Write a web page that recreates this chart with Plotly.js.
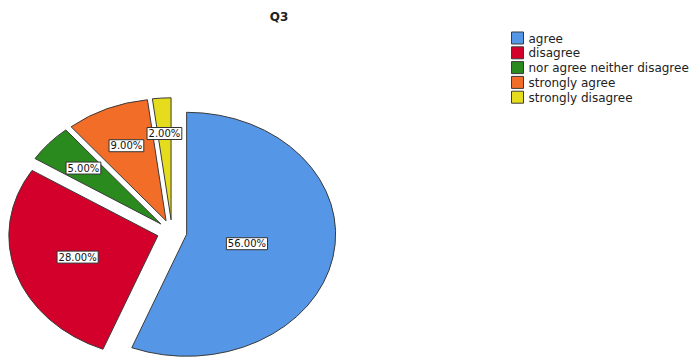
<!DOCTYPE html>
<html><head><meta charset="utf-8">
<script src="https://cdn.plot.ly/plotly-3.0.1.min.js"></script>
<style>html,body{margin:0;padding:0;background:#fff}#chart{width:689px;height:362px}</style>
</head><body><div id="chart"></div>
<script>
const categories = ['agree', 'disagree', 'nor agree neither disagree', 'strongly agree', 'strongly disagree'];
const percents = [56, 28, 5, 9, 2];
const colors = ['#5596E6', '#D2002A', '#2A8A1E', '#F26E28', '#E6DC1E'];
const chartTitle = 'Q3';

const FONT = 'DejaVu Sans, Verdana, sans-serif';
const gd = document.getElementById('chart');
const PULL = 0.1;

const trace = {
  type: 'pie', labels: categories, values: percents,
  sort: false, direction: 'clockwise', rotation: 0,
  marker: {colors: colors, line: {color: '#3a3a3a', width: 1}},
  pull: PULL,
  texttemplate: '%{percent:.2%}', textposition: 'inside', insidetextorientation: 'horizontal',
  textfont: {family: FONT, size: 10, color: '#111'},
  domain: {x: [0.05, 0.45], y: [0.1, 0.9]},
  hoverinfo: 'none'
};

const layout = {
  width: 689, height: 362,
  margin: {l: 0, r: 0, t: 0, b: 0},
  paper_bgcolor: '#fff',
  font: {family: FONT, color: '#222'},
  title: {text: '<b>' + chartTitle + '</b>', x: 279 / 689, xanchor: 'center', y: 1 - 17 / 362, yanchor: 'middle',
          font: {family: FONT, size: 12, color: '#222'}},
  uniformtext: {mode: 'show', minsize: 10},
  showlegend: true,
  legend: {x: 0.733, y: 1 - 27 / 362, xanchor: 'left', yanchor: 'top', font: {family: FONT, size: 12, color: '#222'},
           bgcolor: 'rgba(0,0,0,0)', traceorder: 'normal'}
};

Plotly.newPlot(gd, [trace], layout, {staticPlot: true}).then(function () {
  const cd = gd.calcdata[0];
  const cd0 = cd[0];
  const cx = cd0.cx, cy = cd0.cy, r = cd0.r;
  const tx = 172, ty = 232, rx = 149, ry = 122;
  const sx = rx / r, sy = ry / r;
  const total = percents.reduce(function (a, b) { return a + b; }, 0);
  const M = 'translate(' + tx + ',' + ty + ') scale(' + sx + ',' + sy + ') translate(' + (-cx) + ',' + (-cy) + ')';
  const svg = gd.querySelector('.main-svg');
  const sr = svg.getBoundingClientRect();
  gd.querySelectorAll('.pielayer g.slice').forEach(function (g) {
    const pt = g.__data__;
    const p = g.querySelector('path.surface');
    if (p) { p.setAttribute('transform', M); p.style.vectorEffect = 'non-scaling-stroke'; }
    const t = g.querySelector('text.slicetext');
    if (!t || !pt) return;
    const br = t.getBoundingClientRect();
    const ox = br.left + br.width / 2 - sr.left, oy = br.top + br.height / 2 - sr.top;
    const share = pt.v / total;
    const f = PULL + 0.72 - 0.55 * share;
    const nx = tx + sx * f * pt.pxmid[0], ny = ty + sy * f * pt.pxmid[1];
    const old = t.getAttribute('transform') || '';
    const tr = 'translate(' + (nx - ox) + ',' + (ny - oy) + ') ' + old;
    const bb = t.getBBox();
    const rect = document.createElementNS('http://www.w3.org/2000/svg', 'rect');
    rect.setAttribute('x', bb.x - 1.5);
    rect.setAttribute('y', bb.y - 0.5);
    rect.setAttribute('width', bb.width + 3);
    rect.setAttribute('height', bb.height + 1);
    rect.setAttribute('fill', '#fff');
    rect.setAttribute('stroke', '#333');
    rect.setAttribute('stroke-width', '1');
    rect.setAttribute('transform', tr);
    t.parentNode.insertBefore(rect, t);
    t.setAttribute('transform', tr);
  });

  // compact legend like the reference
  const items = Array.from(gd.querySelectorAll('.legend .traces'));
  if (items.length) {
    const parse = function (s) {
      const m = /translate\(\s*([-\d.e]+)[ ,]\s*([-\d.e]+)\s*\)/.exec(s || '');
      return m ? [parseFloat(m[1]), parseFloat(m[2])] : [0, 0];
    };
    const first = parse(items[0].getAttribute('transform'));
    const sym = items[0].querySelector('.legendpoints path');
    let dx = 0, dy = 0;
    if (sym) {
      const b = sym.getBoundingClientRect();
      dx = 517.5 - (b.left + b.width / 2 - sr.left);
      dy = 38 - (b.top + b.height / 2 - sr.top);
    }
    items.forEach(function (g, i) {
      const c = parse(g.getAttribute('transform'));
      g.setAttribute('transform', 'translate(' + (c[0] + dx) + ',' + (first[1] + dy + i * 14.8) + ')');
      const lt = g.querySelector('text.legendtext');
      if (lt) lt.setAttribute('x', 31);
    });
  }
});
</script>
</body></html>
